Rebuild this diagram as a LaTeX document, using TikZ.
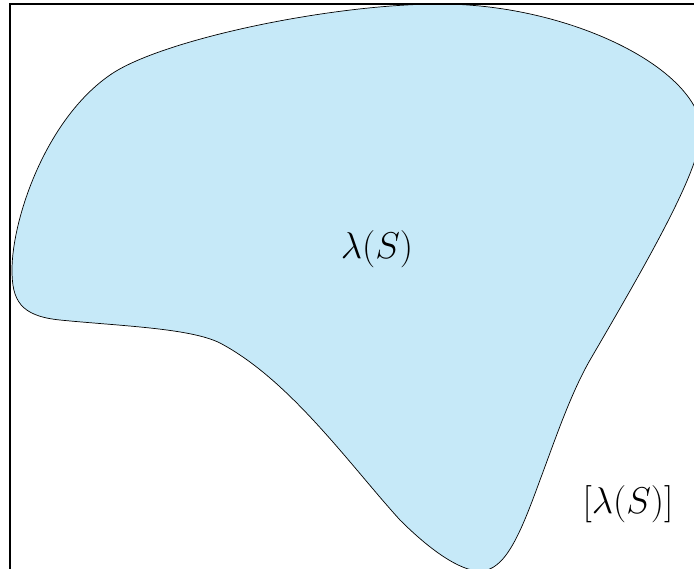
\RequirePackage{fix-cm}
\documentclass[tikz,border=0pt]{standalone}
\definecolor{setblue}{RGB}{198,233,248}
\begin{document}
\begin{tikzpicture}[x=0.025cm, y=-0.025cm, every node/.style={font=\fontsize{26.5}{31}\selectfont}]
  \useasboundingbox (0,0) rectangle (694,568);
  \clip (0,0) rectangle (694,568);
  % the set and its image
  \draw[fill=setblue, line width=0.5pt] (440,4)
    .. controls (560,4) and (683,60) .. (700,120)
    .. controls (710,152) and (660,240) .. (590,360)
    .. controls (570,395) and (555,440) .. (540,480)
    .. controls (520,535) and (505,571) .. (480,571)
    .. controls (460,571) and (430,550) .. (400,520)
    .. controls (350,465) and (290,380) .. (220,343)
    .. controls (190,328) and (120,326) .. (60,320)
    .. controls (20,316) and (12,300) .. (12,270)
    .. controls (12,220) and (45,120) .. (110,75)
    .. controls (160,40) and (330,4) .. (440,4) -- cycle;
  \draw[line width=1.4pt] (10,4) rectangle (720,590);
  \node (lam) at (377,249) {$\lambda(S)$};
  \node (hull) at (628,504) {$[\lambda(S)]$};
\end{tikzpicture}
\end{document}
